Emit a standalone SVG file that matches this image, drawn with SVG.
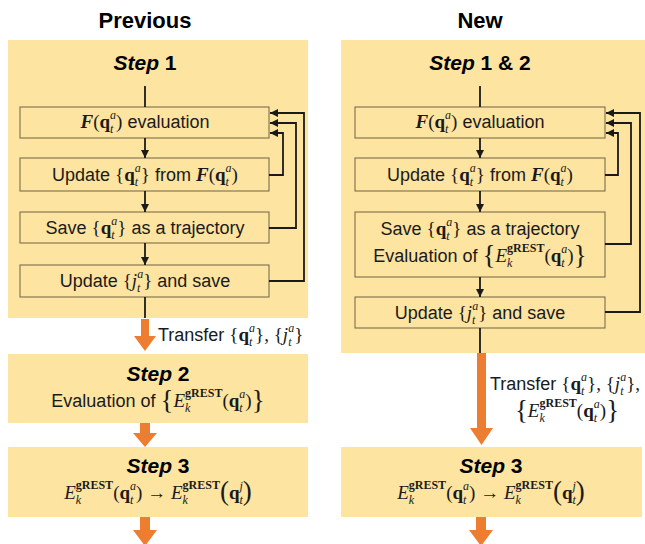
<svg xmlns="http://www.w3.org/2000/svg" width="645" height="544" viewBox="0 0 645 544">
<defs>
<style>
.panel{fill:#FDE4A0}
.box{fill:#FDE4A0;stroke:#7D6D4E;stroke-width:1.1}
.ln{stroke:#1a1a1a;stroke-width:1.8;fill:none}
.or{fill:#ED7D31}
.title{font-family:"Liberation Sans",Arial,sans-serif;font-weight:bold;font-size:22px;fill:#000}
.step{font-family:"Liberation Sans",Arial,sans-serif;font-weight:bold;font-size:21px;fill:#000}
.t{font-family:"Liberation Sans",Arial,sans-serif;font-size:18px;fill:#1a1a1a}
.m{font-family:"Liberation Serif","Times New Roman",serif;font-size:19px}
.mi{font-family:"Liberation Serif","Times New Roman",serif;font-style:italic;font-size:19px}
.mb{font-family:"Liberation Serif","Times New Roman",serif;font-weight:bold;font-size:19px}
.mbi{font-family:"Liberation Serif","Times New Roman",serif;font-weight:bold;font-style:italic;font-size:19px}
.si{font-family:"Liberation Serif","Times New Roman",serif;font-style:italic;font-size:12px}
.sb{font-family:"Liberation Serif","Times New Roman",serif;font-weight:bold;font-size:12px}
.big{font-family:"Liberation Serif","Times New Roman",serif;font-size:27px}
</style>
<marker id="ah" markerUnits="userSpaceOnUse" markerWidth="8" markerHeight="8" refX="8" refY="4" orient="auto">
<path d="M0,0 L8,4 L0,8 z" fill="#1a1a1a"/>
</marker>
</defs>

<text class="title" x="145" y="28" text-anchor="middle">Previous</text>
<text class="title" x="480" y="28" text-anchor="middle">New</text>

<!-- Left column -->
<g id="prev-step1">
<rect class="panel" x="8" y="40" width="300" height="278"/>
<text class="step" x="145" y="70" text-anchor="middle"><tspan font-style="italic">Step</tspan> 1</text>
</g>
<g id="prev-eval">
<rect class="box" x="20" y="107" width="249" height="31"/>
<text class="t" x="145" y="128" text-anchor="middle"><tspan class="mbi">F</tspan><tspan class="m">(</tspan><tspan class="mb">q</tspan><tspan class="si" dy="5">t</tspan><tspan class="si" dx="-3.3" dy="-14">a</tspan><tspan class="m" dy="9">)</tspan> evaluation</text>
</g>
<g id="prev-update">
<rect class="box" x="20" y="158" width="249" height="33"/>
<text class="t" x="145" y="181" text-anchor="middle">Update <tspan class="m">{</tspan><tspan class="mb">q</tspan><tspan class="si" dy="5">t</tspan><tspan class="si" dx="-3.3" dy="-14">a</tspan><tspan class="m" dy="9">}</tspan> from <tspan class="mbi">F</tspan><tspan class="m">(</tspan><tspan class="mb">q</tspan><tspan class="si" dy="5">t</tspan><tspan class="si" dx="-3.3" dy="-14">a</tspan><tspan class="m" dy="9">)</tspan></text>
</g>
<g id="prev-save">
<rect class="box" x="20" y="212" width="249" height="31"/>
<text class="t" x="145" y="234" text-anchor="middle">Save <tspan class="m">{</tspan><tspan class="mb">q</tspan><tspan class="si" dy="5">t</tspan><tspan class="si" dx="-3.3" dy="-14">a</tspan><tspan class="m" dy="9">}</tspan> as a trajectory</text>
</g>
<g id="prev-updj">
<rect class="box" x="20" y="265" width="249" height="32"/>
<text class="t" x="145" y="287" text-anchor="middle">Update <tspan class="m">{</tspan><tspan class="mi">j</tspan><tspan class="si" dy="5">t</tspan><tspan class="si" dx="-3.3" dy="-14">a</tspan><tspan class="m" dy="9">}</tspan> and save</text>
</g>
<g id="prev-step2">
<rect class="panel" x="8" y="354" width="300" height="69"/>
<text class="step" x="158" y="381" text-anchor="middle"><tspan font-style="italic">Step</tspan> 2</text>
<text class="t" x="158" y="407" text-anchor="middle">Evaluation of <tspan class="big" dy="2">{</tspan><tspan class="mi" dy="-2">E</tspan><tspan class="si" dy="5">k</tspan><tspan class="sb" dx="-5.3" dy="-15">gREST</tspan><tspan class="m" dy="10">(</tspan><tspan class="mb">q</tspan><tspan class="si" dy="5">t</tspan><tspan class="si" dx="-3.3" dy="-14">a</tspan><tspan class="m" dy="9">)</tspan><tspan class="big" dy="2">}</tspan></text>
</g>
<g id="prev-step3">
<rect class="panel" x="8" y="447" width="300" height="70"/>
<text class="step" x="158" y="473" text-anchor="middle"><tspan font-style="italic">Step</tspan> 3</text>
<text class="t" x="158" y="499" text-anchor="middle"><tspan class="mi">E</tspan><tspan class="si" dy="5">k</tspan><tspan class="sb" dx="-5.3" dy="-15">gREST</tspan><tspan class="m" dy="10">(</tspan><tspan class="mb">q</tspan><tspan class="si" dy="5">t</tspan><tspan class="si" dx="-3.3" dy="-14">a</tspan><tspan class="m" dy="9">) → </tspan><tspan class="mi">E</tspan><tspan class="si" dy="5">k</tspan><tspan class="sb" dx="-5.3" dy="-15">gREST</tspan><tspan class="big" dy="11">(</tspan><tspan class="mb" dy="-1">q</tspan><tspan class="si" dy="5">t</tspan><tspan class="si" dx="-3.3" dy="-14">j</tspan><tspan class="big" dy="10">)</tspan></text>
</g>

<!-- Right column -->
<g id="new-step12">
<rect class="panel" x="341" y="40" width="304" height="313"/>
<text class="step" x="480" y="70" text-anchor="middle"><tspan font-style="italic">Step</tspan> 1 &amp; 2</text>
</g>
<g id="new-eval">
<rect class="box" x="355" y="107" width="250" height="31"/>
<text class="t" x="480" y="128" text-anchor="middle"><tspan class="mbi">F</tspan><tspan class="m">(</tspan><tspan class="mb">q</tspan><tspan class="si" dy="5">t</tspan><tspan class="si" dx="-3.3" dy="-14">a</tspan><tspan class="m" dy="9">)</tspan> evaluation</text>
</g>
<g id="new-update">
<rect class="box" x="355" y="158" width="250" height="33"/>
<text class="t" x="480" y="181" text-anchor="middle">Update <tspan class="m">{</tspan><tspan class="mb">q</tspan><tspan class="si" dy="5">t</tspan><tspan class="si" dx="-3.3" dy="-14">a</tspan><tspan class="m" dy="9">}</tspan> from <tspan class="mbi">F</tspan><tspan class="m">(</tspan><tspan class="mb">q</tspan><tspan class="si" dy="5">t</tspan><tspan class="si" dx="-3.3" dy="-14">a</tspan><tspan class="m" dy="9">)</tspan></text>
</g>
<g id="new-save">
<rect class="box" x="355" y="212" width="250" height="65"/>
<text class="t" x="480" y="235" text-anchor="middle">Save <tspan class="m">{</tspan><tspan class="mb">q</tspan><tspan class="si" dy="5">t</tspan><tspan class="si" dx="-3.3" dy="-14">a</tspan><tspan class="m" dy="9">}</tspan> as a trajectory</text>
<text class="t" x="480" y="262" text-anchor="middle">Evaluation of <tspan class="big" dy="2">{</tspan><tspan class="mi" dy="-2">E</tspan><tspan class="si" dy="5">k</tspan><tspan class="sb" dx="-5.3" dy="-15">gREST</tspan><tspan class="m" dy="10">(</tspan><tspan class="mb">q</tspan><tspan class="si" dy="5">t</tspan><tspan class="si" dx="-3.3" dy="-14">a</tspan><tspan class="m" dy="9">)</tspan><tspan class="big" dy="2">}</tspan></text>
</g>
<g id="new-updj">
<rect class="box" x="355" y="297" width="250" height="31"/>
<text class="t" x="480" y="319" text-anchor="middle">Update <tspan class="m">{</tspan><tspan class="mi">j</tspan><tspan class="si" dy="5">t</tspan><tspan class="si" dx="-3.3" dy="-14">a</tspan><tspan class="m" dy="9">}</tspan> and save</text>
</g>
<g id="new-step3">
<rect class="panel" x="341" y="447" width="301" height="70"/>
<text class="step" x="491" y="473" text-anchor="middle"><tspan font-style="italic">Step</tspan> 3</text>
<text class="t" x="491" y="499" text-anchor="middle"><tspan class="mi">E</tspan><tspan class="si" dy="5">k</tspan><tspan class="sb" dx="-5.3" dy="-15">gREST</tspan><tspan class="m" dy="10">(</tspan><tspan class="mb">q</tspan><tspan class="si" dy="5">t</tspan><tspan class="si" dx="-3.3" dy="-14">a</tspan><tspan class="m" dy="9">) → </tspan><tspan class="mi">E</tspan><tspan class="si" dy="5">k</tspan><tspan class="sb" dx="-5.3" dy="-15">gREST</tspan><tspan class="big" dy="11">(</tspan><tspan class="mb" dy="-1">q</tspan><tspan class="si" dy="5">t</tspan><tspan class="si" dx="-3.3" dy="-14">j</tspan><tspan class="big" dy="10">)</tspan></text>
</g>

<!-- Connectors -->
<g id="connectors">
<path class="ln" d="M145,86 V107"/>
<path class="ln" d="M145,138 V158" marker-end="url(#ah)"/>
<path class="ln" d="M145,191 V212" marker-end="url(#ah)"/>
<path class="ln" d="M145,243 V265" marker-end="url(#ah)"/>
<path class="ln" d="M145,297 V318"/>
<path class="ln" d="M269,175 H283 V133 H270" marker-end="url(#ah)"/>
<path class="ln" d="M269,228 H296 V123 H270" marker-end="url(#ah)"/>
<path class="ln" d="M269,281 H304 V113 H270" marker-end="url(#ah)"/>

<path class="ln" d="M480,86 V107"/>
<path class="ln" d="M480,138 V158" marker-end="url(#ah)"/>
<path class="ln" d="M480,191 V212" marker-end="url(#ah)"/>
<path class="ln" d="M480,277 V297" marker-end="url(#ah)"/>
<path class="ln" d="M480,328 V353"/>
<path class="ln" d="M605,175 H618 V133 H606" marker-end="url(#ah)"/>
<path class="ln" d="M605,244 H631 V123 H606" marker-end="url(#ah)"/>
<path class="ln" d="M605,312 H640 V113 H606" marker-end="url(#ah)"/>

<polygon class="or" points="141,319 149,319 149,336 156,336 145,351 134,336 141,336"/>
<polygon class="or" points="140,423 150,423 150,433 157,433 145,447 133,433 140,433"/>
<polygon class="or" points="140,517 150,517 150,530 157,530 145,546 133,530 140,530"/>
<polygon class="or" points="477,353 486,353 486,428 493,428 481.5,445 470,428 477,428"/>
<polygon class="or" points="476,517 486,517 486,530 493,530 481,546 469,530 476,530"/>

<text class="t" x="158" y="341">Transfer <tspan class="m">{</tspan><tspan class="mb">q</tspan><tspan class="si" dy="5">t</tspan><tspan class="si" dx="-3.3" dy="-14">a</tspan><tspan class="m" dy="9">}, {</tspan><tspan class="mi">j</tspan><tspan class="si" dy="5">t</tspan><tspan class="si" dx="-3.3" dy="-14">a</tspan><tspan class="m" dy="9">}</tspan></text>
<text class="t" x="490" y="390">Transfer <tspan class="m">{</tspan><tspan class="mb">q</tspan><tspan class="si" dy="5">t</tspan><tspan class="si" dx="-3.3" dy="-14">a</tspan><tspan class="m" dy="9">}, {</tspan><tspan class="mi">j</tspan><tspan class="si" dy="5">t</tspan><tspan class="si" dx="-3.3" dy="-14">a</tspan><tspan class="m" dy="9">},</tspan></text>
<text class="t" x="567" y="417" text-anchor="middle"><tspan class="big" dy="2">{</tspan><tspan class="mi" dy="-2">E</tspan><tspan class="si" dy="5">k</tspan><tspan class="sb" dx="-5.3" dy="-15">gREST</tspan><tspan class="m" dy="10">(</tspan><tspan class="mb">q</tspan><tspan class="si" dy="5">t</tspan><tspan class="si" dx="-3.3" dy="-14">a</tspan><tspan class="m" dy="9">)</tspan><tspan class="big" dy="2">}</tspan></text>
</g>
</svg>
